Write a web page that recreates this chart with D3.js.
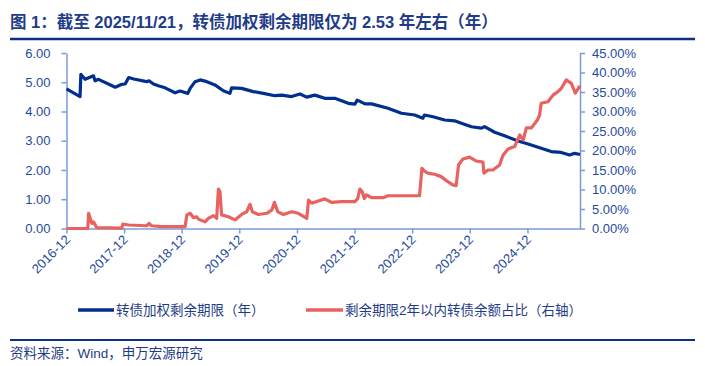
<!DOCTYPE html>
<html>
<head>
<meta charset="utf-8">
<script src="https://cdn.jsdelivr.net/npm/d3@7"></script>
<style>
    body { margin: 0; background: #fff; }
    text { font-family: "Liberation Sans", "Noto Sans CJK SC", sans-serif; }
</style>
</head>
<body>
<div id="container"></div>
<script>
// 转债加权剩余期限（年）
const termDates = ["2016-12-23", "2017-03-19", "2017-03-24", "2017-04-20", "2017-06-12", "2017-06-22", "2017-07-14",
    "2017-10-28", "2017-12-09", "2017-12-30", "2018-01-21", "2018-02-22", "2018-05-15", "2018-05-30", "2018-06-27",
    "2018-07-28", "2018-09-09", "2018-11-11", "2018-12-13", "2019-01-31", "2019-02-15", "2019-03-18", "2019-04-19",
    "2019-05-20", "2019-07-22", "2019-09-13", "2019-10-25", "2019-11-05", "2020-01-07", "2020-03-21", "2020-05-24",
    "2020-08-05", "2020-09-17", "2020-11-19", "2021-01-11", "2021-02-23", "2021-04-15", "2021-06-17", "2021-08-20",
    "2021-11-13", "2021-12-25", "2022-01-09", "2022-02-27", "2022-04-09", "2022-07-23", "2022-10-16", "2023-01-08",
    "2023-03-01", "2023-03-11", "2023-05-04", "2023-07-17", "2023-09-18", "2023-10-31", "2024-01-03", "2024-03-06",
    "2024-03-26", "2024-05-29", "2024-07-31", "2024-10-24", "2024-12-27", "2025-03-20", "2025-05-22", "2025-07-25",
    "2025-09-16", "2025-10-18", "2025-11-21"]
const termValues = [4.77, 4.51, 5.27, 5.10, 5.22, 5.05, 5.10,
    4.83, 4.93, 4.94, 5.16, 5.11, 5.02, 5.05, 4.94,
    4.88, 4.81, 4.64, 4.70, 4.62, 4.79, 5.02, 5.08,
    5.04, 4.91, 4.71, 4.62, 4.81, 4.79, 4.68, 4.62,
    4.54, 4.56, 4.51, 4.60, 4.49, 4.56, 4.45, 4.45,
    4.28, 4.25, 4.39, 4.26, 4.26, 4.11, 3.94, 3.88,
    3.77, 3.88, 3.82, 3.71, 3.68, 3.60, 3.48, 3.43,
    3.48, 3.29, 3.17, 2.99, 2.89, 2.74, 2.63, 2.60,
    2.51, 2.57, 2.53]

// 剩余期限2年以内转债余额占比（右轴, %）
const shortDates = ["2016-12-23", "2017-05-07", "2017-05-12", "2017-06-02", "2017-06-12", "2017-07-03", "2017-12-09",
    "2017-12-15", "2018-01-21", "2018-05-15", "2018-05-30", "2018-06-16", "2018-08-18", "2019-01-14", "2019-01-25",
    "2019-02-15", "2019-03-07", "2019-03-28", "2019-04-08", "2019-05-20", "2019-06-10", "2019-07-12", "2019-08-02",
    "2019-08-13", "2019-08-23", "2019-09-02", "2019-10-15", "2019-11-26", "2020-01-07", "2020-02-08", "2020-02-29",
    "2020-03-15", "2020-04-22", "2020-06-14", "2020-07-16", "2020-08-02", "2020-08-23", "2020-09-28", "2020-11-19",
    "2020-12-31", "2021-02-23", "2021-03-06", "2021-03-26", "2021-04-27", "2021-06-17", "2021-07-30", "2021-10-01",
    "2021-12-25", "2022-01-11", "2022-01-26", "2022-02-10", "2022-02-23", "2022-03-09", "2022-04-09", "2022-06-22",
    "2022-07-23", "2022-11-06", "2023-02-08", "2023-02-23", "2023-03-11", "2023-04-02", "2023-05-14", "2023-06-25",
    "2023-08-06", "2023-09-07", "2023-09-28", "2023-10-13", "2023-11-10", "2023-12-22", "2024-02-03", "2024-03-16",
    "2024-03-22", "2024-04-17", "2024-05-18", "2024-06-29", "2024-07-21", "2024-08-22", "2024-10-03", "2024-11-04",
    "2024-11-26", "2024-12-16", "2025-01-17", "2025-02-24", "2025-03-10", "2025-03-20", "2025-05-02", "2025-06-03",
    "2025-07-04", "2025-07-25", "2025-08-26", "2025-09-27", "2025-10-22", "2025-11-21"]
const shortValues = [0, 0, 3.9, 1.3, 1.7, 0.2, 0.1,
    1.15, 0.9, 0.7, 1.3, 0.7, 0.5, 0.5, 3.5,
    3.9, 2.8, 3.0, 2.4, 1.7, 2.6, 3.3, 2.6,
    10.1, 9.4, 3.5, 3.0, 2.2, 3.6, 4.3, 6.2,
    4.3, 3.6, 3.9, 4.7, 6.7, 4.3, 3.6, 4.3,
    3.9, 2.6, 7.3, 6.5, 6.9, 7.6, 6.7, 6.9,
    6.9, 7.6, 10.1, 9.4, 7.7, 8.6, 7.9, 7.9,
    8.4, 8.4, 8.4, 15.4, 14.7, 14.2, 13.9, 13.3,
    12.0, 11.2, 11.0, 16.3, 17.8, 18.3, 17.3, 17.0,
    14.2, 15.0, 15.0, 16.3, 18.8, 20.4, 21.0, 24.0,
    22.7, 25.8, 25.8, 27.8, 29.1, 32.1, 32.5, 34.2,
    35.1, 35.9, 38.1, 37.2, 34.7, 36.6]

const leftTicks = [0, 1, 2, 3, 4, 5, 6]
const rightTicks = [0, 5, 10, 15, 20, 25, 30, 35, 40, 45]
const xStart = "2016-12-23", xEnd = "2025-11-21"

const title = "图 1：截至 2025/11/21，转债加权剩余期限仅为 2.53 年左右（年）"
const legendNames = ["转债加权剩余期限（年）", "剩余期限2年以内转债余额占比（右轴）"]
const source = "资料来源：Wind，申万宏源研究"

const w = 705, h = 366
const plotLeft = 66.5, plotRight = 580, plotTop = 53, plotBottom = 228.5
const navy = "#1f3c88", axisColor = "#7b9bd8", labelColor = "#1f4a9e"
const blue = "#002f8e", red = "#e8625f"

const parse = d3.timeParse("%Y-%m-%d")
const svg = d3.select("#container").append("svg").attr("width", w).attr("height", h)

// title + rules
svg.append("text").attr("x", 10).attr("y", 28).attr("font-size", 16.5).attr("font-weight", "bold")
    .attr("fill", navy).text(title)
svg.append("line").attr("x1", 10).attr("x2", 695).attr("y1", 39).attr("y2", 39)
    .attr("stroke", "#0d2f8a").attr("stroke-width", 2.5)
svg.append("line").attr("x1", 10).attr("x2", 695).attr("y1", 340).attr("y2", 340)
    .attr("stroke", "#0d2f8a").attr("stroke-width", 2)
svg.append("text").attr("x", 10).attr("y", 358).attr("font-size", 13.5).attr("fill", navy).text(source)

const x = d3.scaleTime().domain([parse(xStart), parse(xEnd)]).range([plotLeft, plotRight])
const yL = d3.scaleLinear().domain([0, 6]).range([plotBottom, plotTop])
const yR = d3.scaleLinear().domain([0, 45]).range([plotBottom, plotTop])
const xTicks = d3.range(9).map(i => d3.timeYear.offset(parse(xStart), i))

function styleAxis(g) {
    g.select(".domain").attr("stroke", axisColor).attr("stroke-width", 1.5)
    g.selectAll(".tick line").attr("stroke", axisColor).attr("stroke-width", 1.5)
    g.selectAll(".tick text").attr("fill", labelColor).attr("font-size", 13)
        .attr("font-family", "'Liberation Sans', sans-serif")
}

const xAxis = svg.append("g").attr("transform", `translate(0, ${plotBottom})`)
    .call(d3.axisBottom(x).tickValues(xTicks).tickFormat(d3.timeFormat("%Y-%m")).tickSize(5).tickSizeOuter(0))
    .call(styleAxis)
xAxis.selectAll(".tick text").attr("text-anchor", "end").attr("dy", 0).attr("y", 0)
    .attr("transform", "translate(4, 12) rotate(-45)")

svg.append("g").attr("transform", `translate(${plotLeft}, 0)`)
    .call(d3.axisLeft(yL).tickValues(leftTicks).tickFormat(d3.format(".2f")).tickSize(5).tickPadding(11).tickSizeOuter(0))
    .call(styleAxis)

svg.append("g").attr("transform", `translate(${plotRight}, 0)`)
    .call(d3.axisRight(yR).tickValues(rightTicks).tickFormat(d => d.toFixed(2) + "%").tickSize(5).tickPadding(7).tickSizeOuter(0))
    .call(styleAxis)

const termData = termDates.map((d, i) => ({ date: parse(d), value: termValues[i] }))
const shortData = shortDates.map((d, i) => ({ date: parse(d), value: shortValues[i] }))

svg.append("path").datum(termData).attr("fill", "none").attr("stroke", blue).attr("stroke-width", 3.2)
    .attr("stroke-linejoin", "round")
    .attr("d", d3.line().x(d => x(d.date)).y(d => yL(d.value)))
svg.append("path").datum(shortData).attr("fill", "none").attr("stroke", red).attr("stroke-width", 3.2)
    .attr("stroke-linejoin", "round")
    .attr("d", d3.line().x(d => x(d.date)).y(d => yR(d.value)))

// legend
const legendX = [[78, 114], [306, 343]]
const legendColors = [blue, red]
legendNames.forEach((name, i) => {
    svg.append("line").attr("x1", legendX[i][0]).attr("x2", legendX[i][1]).attr("y1", 310).attr("y2", 310)
        .attr("stroke", legendColors[i]).attr("stroke-width", 3.5)
    svg.append("text").attr("x", legendX[i][1] + 2).attr("y", 315).attr("font-size", 13.5)
        .attr("fill", navy).text(name)
})
</script>
</body>
</html>
